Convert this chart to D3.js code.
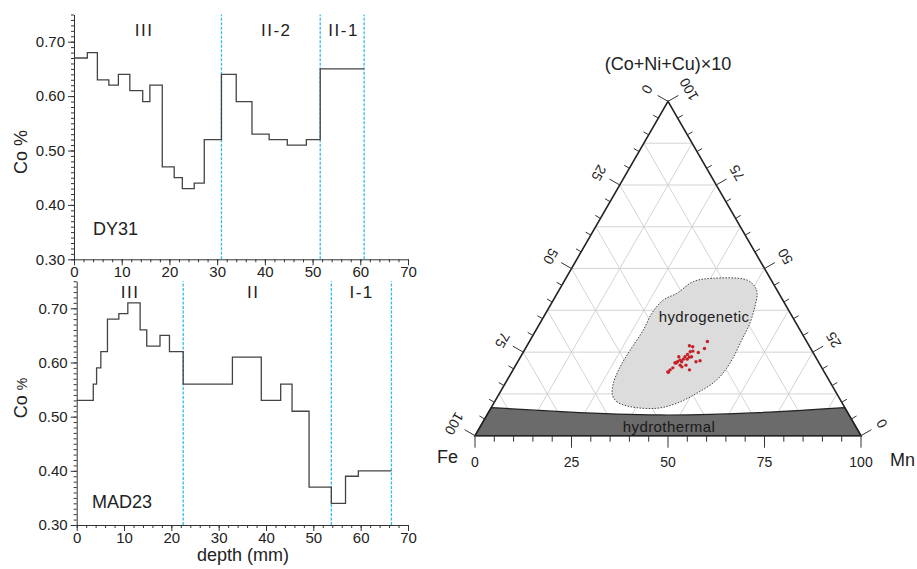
<!DOCTYPE html>
<html>
<head>
<meta charset="utf-8">
<script src="https://cdn.jsdelivr.net/npm/d3@7"></script>
<style>
  body { margin: 0; background: #fff; }
  svg { display: block; font-family: "Liberation Sans", Arial, sans-serif; }
</style>
</head>
<body>
<svg id="chart" width="917" height="569"></svg>
<script>
// ---- depth profiles (step edges in mm, Co % per step) ----
const dy31Depth = [0, 2.8, 4.9, 7.3, 9.3, 11.7, 14.4, 15.9, 18.5, 21.0, 22.7, 25.2, 27.3, 30.9, 34.0, 37.3, 40.9, 44.7, 48.7, 51.6, 60.8];
const dy31Co = [0.67, 0.68, 0.63, 0.62, 0.64, 0.61, 0.59, 0.62, 0.47, 0.45, 0.43, 0.44, 0.52, 0.64, 0.59, 0.53, 0.52, 0.51, 0.52, 0.65];
const dy31Bounds = [30.9, 51.6, 60.8];
const dy31Zones = ["III", "II-2", "II-1"];
const dy31ZoneAt = [14.7, 42.4, 56.5];

const mad23Depth = [0, 3.5, 4.2, 5.1, 6.5, 8.9, 10.8, 13.4, 14.8, 17.6, 19.6, 22.5, 32.9, 39.0, 43.1, 45.5, 49.1, 53.8, 56.8, 59.5, 66.5];
const mad23Co = [0.53, 0.56, 0.59, 0.62, 0.68, 0.69, 0.71, 0.66, 0.63, 0.65, 0.62, 0.56, 0.61, 0.53, 0.56, 0.51, 0.37, 0.34, 0.39, 0.40];
const mad23Bounds = [22.5, 53.8, 66.5];
const mad23Zones = ["III", "II", "I-1"];
const mad23ZoneAt = [11.3, 37.3, 60.2];

const depthTicks = [0, 10, 20, 30, 40, 50, 60, 70];
const coTicks = [0.30, 0.40, 0.50, 0.60, 0.70];

// ---- ternary: [Mn %, (Co+Ni+Cu)x10 %], Fe = 100 - both ----
const ternaryTicks = [0, 25, 50, 75, 100];
const gridLevels = [12.5, 25, 37.5, 50, 62.5, 75, 87.5];
const samples = [
  [42.1, 26.9], [43.1, 26.6], [46.1, 28.2], [46.4, 26.1], [43.2, 25.1], [43.8, 25.3],
  [45.4, 24.9], [42.9, 24.3], [42.6, 23.6], [43.8, 23.5], [44.3, 23.6], [42.5, 22.9],
  [41.0, 23.6], [41.8, 22.6], [41.4, 22.1], [42.5, 22.1], [43.5, 22.9], [46.2, 22.1],
  [47.1, 22.4], [41.2, 21.7], [42.6, 21.1], [44.1, 21.1], [43.3, 20.6], [45.7, 19.7],
  [41.1, 20.3], [40.7, 19.7], [40.6, 19.0], [40.4, 19.1], [40.9, 21.8]
];
const hydrogeneticField = [
  [29.5, 12.2], [31.6, 10.2], [35.8, 8.7], [43.0, 8.2], [47.4, 9.7], [51.1, 12.7],
  [54.3, 16.7], [55.2, 21.7], [54.8, 28.6], [54.4, 33.6], [53.2, 38.6], [51.8, 42.6],
  [50.2, 44.6], [47.1, 46.6], [38.2, 47.1], [33.5, 46.1], [31.0, 42.6], [28.5, 40.6],
  [27.5, 36.6], [27.8, 31.6], [27.4, 25.6], [27.3, 20.6], [28.0, 15.7]
];
const hydrothermalTop = [[0, 8.4], [20, 7.1], [45, 6.2], [70, 6.9], [91.6, 8.4]];

const svg = d3.select("#chart");
const zoneBlue = "#33bbee";

function drawProfile(o) {
  const g = svg.append("g");
  const x = d3.scaleLinear().domain([0, 70]).range(o.xr);
  const y = d3.scaleLinear().domain([0.30, 0.75]).range(o.yr);

  // minor ticks
  g.append("g")
    .attr("transform", `translate(0,${y(0.30)})`)
    .call(d3.axisBottom(x).tickValues(d3.range(0, 71, 2)).tickSize(3).tickFormat(""))
    .call(a => a.select(".domain").remove());
  g.append("g")
    .attr("transform", `translate(${x(0)},0)`)
    .call(d3.axisLeft(y).tickValues(d3.range(30, 76, 1).map(v => v / 100)).tickSize(3).tickFormat(""))
    .call(a => a.select(".domain").remove());

  const xa = g.append("g")
    .attr("transform", `translate(0,${y(0.30)})`)
    .call(d3.axisBottom(x).tickValues(depthTicks).tickSize(6).tickSizeOuter(0).tickPadding(o.xPad));
  const ya = g.append("g")
    .attr("transform", `translate(${x(0)},0)`)
    .call(d3.axisLeft(y).tickValues(coTicks).tickFormat(d3.format(".2f")).tickSize(6).tickSizeOuter(0).tickPadding(3));
  [xa, ya].forEach(a => {
    a.attr("font-family", null).attr("font-size", 15);
    a.selectAll("text").attr("fill", "#222");
  });
  g.selectAll(".domain, .tick line").attr("stroke", "#333");

  // zone boundaries
  g.selectAll(".zone")
    .data(o.bounds)
    .enter()
    .append("line")
    .attr("x1", d => x(d)).attr("x2", d => x(d))
    .attr("y1", y(0.30)).attr("y2", y(0.75))
    .attr("stroke", zoneBlue)
    .attr("stroke-width", 1.3)
    .attr("stroke-dasharray", "3,1.5");

  // step profile
  const pts = o.depth.map((d, i) => [d, o.co[Math.min(i, o.co.length - 1)]]);
  g.append("path")
    .attr("d", d3.line().x(d => x(d[0])).y(d => y(d[1])).curve(d3.curveStepAfter)(pts))
    .attr("fill", "none")
    .attr("stroke", "#444")
    .attr("stroke-width", 1.3);

  g.selectAll(".zl")
    .data(o.zones)
    .enter()
    .append("text")
    .attr("x", (d, i) => x(o.zoneAt[i]))
    .attr("y", o.zoneY)
    .attr("text-anchor", "middle")
    .attr("font-size", 17)
    .attr("letter-spacing", 1.5)
    .attr("fill", "#222")
    .text(d => d);

  g.append("text")
    .attr("x", o.nameX).attr("y", o.nameY)
    .attr("font-size", 18)
    .attr("fill", "#222")
    .text(o.name);

  const yl = g.append("text")
    .attr("transform", `translate(27,${o.ylabY}) rotate(-90)`)
    .attr("text-anchor", "middle")
    .attr("font-size", 18)
    .attr("fill", "#222");
  yl.append("tspan").text("Co ");
  yl.append("tspan").attr("font-size", o.pctSize).text("%");
}

drawProfile({
  xr: [74, 408], yr: [259.3, 14.5], xPad: 1.5,
  depth: dy31Depth, co: dy31Co, bounds: dy31Bounds,
  zones: dy31Zones, zoneAt: dy31ZoneAt, zoneY: 35.5,
  name: "DY31", nameX: 93, nameY: 235, ylabY: 152, pctSize: 18
});
drawProfile({
  xr: [76.7, 408], yr: [525, 281.2], xPad: 1,
  depth: mad23Depth, co: mad23Co, bounds: mad23Bounds,
  zones: mad23Zones, zoneAt: mad23ZoneAt, zoneY: 297.5,
  name: "MAD23", nameX: 92, nameY: 508, ylabY: 398, pctSize: 14
});

svg.append("text")
  .attr("x", 243).attr("y", 561)
  .attr("text-anchor", "middle")
  .attr("font-size", 18)
  .attr("fill", "#222")
  .text("depth (mm)");

// ---- ternary diagram ----
const tg = svg.append("g");
const tx = d3.scaleLinear().domain([0, 100]).range([475, 861]);
const ty = d3.scaleLinear().domain([0, 100]).range([435.7, 101.4]);
const proj = (m, t) => [tx(m + t / 2), ty(t)];

// grid
const gridSegs = [];
gridLevels.forEach(v => {
  gridSegs.push([proj(0, v), proj(100 - v, v)]);
  gridSegs.push([proj(v, 0), proj(v, 100 - v)]);
  gridSegs.push([proj(100 - v, 0), proj(0, 100 - v)]);
});
tg.selectAll(".grid")
  .data(gridSegs)
  .enter()
  .append("line")
  .attr("x1", d => d[0][0]).attr("y1", d => d[0][1])
  .attr("x2", d => d[1][0]).attr("y2", d => d[1][1])
  .attr("stroke", "#cfcfcf")
  .attr("stroke-width", 0.9);

// hydrogenetic field
tg.append("path")
  .attr("d", d3.line().x(d => proj(d[0], d[1])[0]).y(d => proj(d[0], d[1])[1]).curve(d3.curveCatmullRomClosed)(hydrogeneticField))
  .attr("fill", "#dcdcdc")
  .attr("stroke", "#444")
  .attr("stroke-width", 1)
  .attr("stroke-dasharray", "1.5,1.5");

tg.append("text")
  .attr("x", 704).attr("y", 321.5)
  .attr("text-anchor", "middle")
  .attr("font-size", 15)
  .attr("letter-spacing", 0.4)
  .attr("fill", "#222")
  .text("hydrogenetic");

tg.selectAll(".dot")
  .data(samples)
  .enter()
  .append("circle")
  .attr("cx", d => proj(d[0], d[1])[0])
  .attr("cy", d => proj(d[0], d[1])[1])
  .attr("r", 1.7)
  .attr("fill", "#c42026");

// hydrothermal field
const topCurve = d3.line().x(d => proj(d[0], d[1])[0]).y(d => proj(d[0], d[1])[1]).curve(d3.curveNatural)(hydrothermalTop);
const mnCorner = proj(100, 0), feCorner = proj(0, 0);
tg.append("path")
  .attr("d", `${topCurve}L${mnCorner[0]},${mnCorner[1]}L${feCorner[0]},${feCorner[1]}Z`)
  .attr("fill", "#6b6b6b")
  .attr("stroke", "#222")
  .attr("stroke-width", 1.2);

tg.append("text")
  .attr("x", 669).attr("y", 431.5)
  .attr("text-anchor", "middle")
  .attr("font-size", 15)
  .attr("letter-spacing", 0.4)
  .attr("fill", "#1a1a1a")
  .text("hydrothermal");

// outline
const topV = proj(0, 100);
tg.append("path")
  .attr("d", `M${feCorner}L${mnCorner}L${topV}Z`)
  .attr("fill", "none")
  .attr("stroke", "#222")
  .attr("stroke-width", 1.6);

// ticks
const c30 = Math.cos(Math.PI / 6), s30 = 0.5;
const tickVals = d3.range(0, 101, 5);
const ticks = [];
tickVals.forEach(v => {
  const len = v % 25 === 0 ? 12 : 6;
  ticks.push({ p: proj(v, 0), d: [0, 1], len });            // Mn, bottom
  ticks.push({ p: proj(0, 100 - v), d: [-c30, -s30], len }); // Fe, left
  ticks.push({ p: proj(100 - v, v), d: [c30, -s30], len });  // Co+Ni+Cu, right
});
tg.selectAll(".tt")
  .data(ticks)
  .enter()
  .append("line")
  .attr("x1", d => d.p[0]).attr("y1", d => d.p[1])
  .attr("x2", d => d.p[0] + d.d[0] * d.len).attr("y2", d => d.p[1] + d.d[1] * d.len)
  .attr("stroke", "#333")
  .attr("stroke-width", 1);

tg.selectAll(".bl")
  .data(ternaryTicks)
  .enter()
  .append("text")
  .attr("x", d => proj(d, 0)[0])
  .attr("y", 467)
  .attr("text-anchor", "middle")
  .attr("font-size", 14)
  .attr("fill", "#222")
  .text(d => d);

tg.selectAll(".ll")
  .data(ternaryTicks)
  .enter()
  .append("text")
  .attr("transform", d => {
    const p = proj(0, 100 - d);
    return `translate(${p[0] - c30 * 24},${p[1] - s30 * 24}) rotate(120)`;
  })
  .attr("text-anchor", "middle")
  .attr("dominant-baseline", "central")
  .attr("font-size", 14)
  .attr("fill", "#222")
  .text(d => d);

tg.selectAll(".rl")
  .data(ternaryTicks)
  .enter()
  .append("text")
  .attr("transform", d => {
    const p = proj(100 - d, d);
    return `translate(${p[0] + c30 * 24},${p[1] - s30 * 24}) rotate(-120)`;
  })
  .attr("text-anchor", "middle")
  .attr("dominant-baseline", "central")
  .attr("font-size", 14)
  .attr("fill", "#222")
  .text(d => d);

tg.append("text")
  .attr("x", 668).attr("y", 70)
  .attr("text-anchor", "middle")
  .attr("font-size", 18)
  .attr("fill", "#222")
  .text("(Co+Ni+Cu)×10");

tg.append("text")
  .attr("x", 437).attr("y", 463)
  .attr("font-size", 18)
  .attr("fill", "#222")
  .text("Fe");

tg.append("text")
  .attr("x", 890).attr("y", 466)
  .attr("font-size", 18)
  .attr("fill", "#222")
  .text("Mn");
</script>
</body>
</html>
